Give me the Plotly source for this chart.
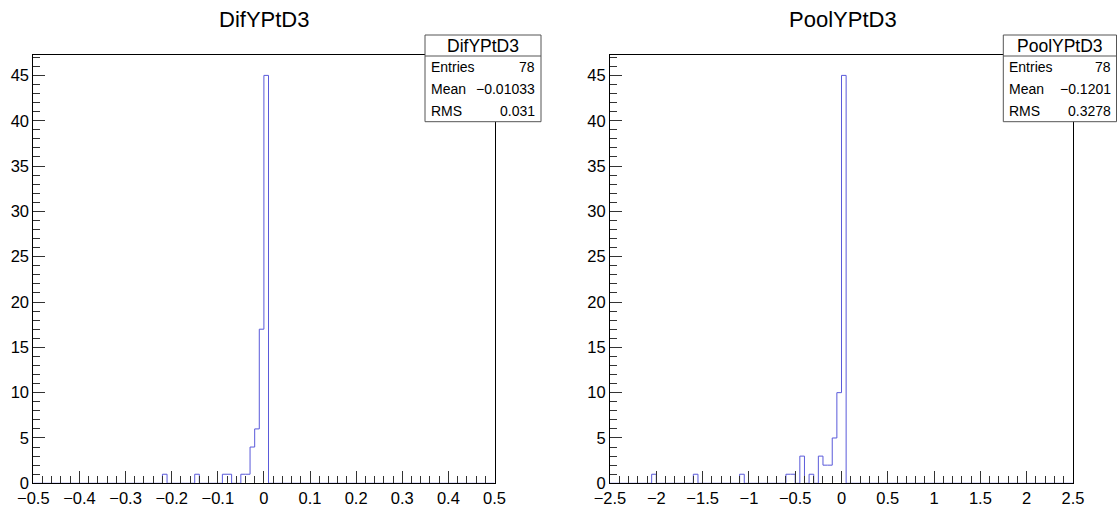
import numpy as np
import plotly.graph_objects as go

W, H = 1117, 506

# ---- data ----
dif_title = "DifYPtD3"
dif_bin_lo = [-0.22, -0.15, -0.09, -0.08, -0.05, -0.04, -0.03, -0.02, -0.01, 0.00]
dif_counts = [1, 1, 1, 1, 1, 1, 4, 6, 17, 45]
dif_stats = [("Entries", "78"), ("Mean", "\u22120.01033"), ("RMS", "0.031")]
dif_tickvals = [-0.5, -0.4, -0.3, -0.2, -0.1, 0.0, 0.1, 0.2, 0.3, 0.4, 0.5]
dif_ticktext = ["\u22120.5", "\u22120.4", "\u22120.3", "\u22120.2", "\u22120.1", "0",
                "0.1", "0.2", "0.3", "0.4", "0.5"]

pool_title = "PoolYPtD3"
pool_bin_lo = [-2.05, -1.60, -1.10, -0.60, -0.55, -0.45, -0.35, -0.25, -0.20, -0.15, -0.10, -0.05, 0.00]
pool_counts = [1, 1, 1, 1, 1, 3, 1, 3, 2, 2, 5, 10, 45]
pool_stats = [("Entries", "78"), ("Mean", "\u22120.1201"), ("RMS", "0.3278")]
pool_tickvals = [-2.5, -2, -1.5, -1, -0.5, 0, 0.5, 1, 1.5, 2, 2.5]
pool_ticktext = ["\u22122.5", "\u22122", "\u22121.5", "\u22121", "\u22120.5", "0",
                 "0.5", "1", "1.5", "2", "2.5"]

y_tickvals = [0, 5, 10, 15, 20, 25, 30, 35, 40, 45]
y_ticktext = [str(v) for v in y_tickvals]

NBINS = 100
BLUE = "rgb(90,90,218)"
FONT = "Liberation Sans, Arial, Helvetica, sans-serif"


def step_xy(xmin, xmax, lo_list, counts):
    width = (xmax - xmin) / NBINS
    full = np.zeros(NBINS)
    for lo, c in zip(lo_list, counts):
        idx = int(round((lo - xmin) / width))
        full[idx] = c
    edges = xmin + width * np.arange(NBINS + 1)
    xs = [edges[0]] + list(edges[:-1]) + [edges[-1]]
    ys = [0.0] + list(full) + [0.0]
    return xs, ys


def px(x):
    return x / W


def py(y):
    return 1 - y / H


fig = go.Figure()

xs, ys = step_xy(-0.5, 0.5, dif_bin_lo, dif_counts)
fig.add_trace(go.Scatter(x=xs, y=ys, mode="lines", line=dict(color=BLUE, width=1, shape="hv"),
                         xaxis="x", yaxis="y", showlegend=False, hoverinfo="skip"))
xs, ys = step_xy(-2.5, 2.5, pool_bin_lo, pool_counts)
fig.add_trace(go.Scatter(x=xs, y=ys, mode="lines", line=dict(color=BLUE, width=1, shape="hv"),
                         xaxis="x2", yaxis="y2", showlegend=False, hoverinfo="skip"))

y0, y1 = 55.0, 483.3
left_dom = [px(33.3), px(494.5)]
right_dom = [px(610.0), px(1073.0)]
ydom = [py(y1), py(y0)]

tickfont = dict(family=FONT, size=16.5, color="black")

def xaxis(dom, rng, tv, tt, minor_dtick, anchor):
    return dict(domain=dom, range=rng, anchor=anchor, showgrid=False, zeroline=False,
                automargin=False,
                showline=True, linecolor="black", linewidth=1, mirror=True,
                ticks="inside", ticklen=12, tickcolor="#333", tickwidth=1,
                tickvals=tv, ticktext=tt, tickfont=tickfont, tickangle=0,
                minor=dict(ticks="inside", ticklen=7, tickcolor="#333", tickwidth=1,
                           dtick=minor_dtick, tick0=rng[0], showgrid=False),
                fixedrange=True)


def yaxis(anchor):
    return dict(domain=ydom, range=[0, 47.25], anchor=anchor, showgrid=False, zeroline=False,
                automargin=False,
                showline=True, linecolor="black", linewidth=1, mirror=True,
                ticks="inside", ticklen=12, tickcolor="#333", tickwidth=1,
                tickvals=y_tickvals, ticktext=y_ticktext, tickfont=tickfont,
                minor=dict(ticks="inside", ticklen=7, tickcolor="#333", tickwidth=1,
                           dtick=1, tick0=0, showgrid=False),
                fixedrange=True)


shapes = []
annotations = []

# titles
for text, cx in [(dif_title, 264), (pool_title, 843)]:
    annotations.append(dict(x=px(cx), y=py(19.5), xref="paper", yref="paper", text=text,
                            showarrow=False, xanchor="center", yanchor="middle",
                            font=dict(family=FONT, size=22, color="black")))


def stat_box(title, stats, x0, x1):
    top, sep, bot = 35.0, 56.0, 121.7
    shapes.append(dict(type="rect", xref="paper", yref="paper", x0=px(x0), x1=px(x1),
                       y0=py(bot), y1=py(top), fillcolor="white",
                       line=dict(color="#555", width=1), layer="above"))
    shapes.append(dict(type="line", xref="paper", yref="paper", x0=px(x0), x1=px(x1),
                       y0=py(sep), y1=py(sep), line=dict(color="#555", width=1), layer="above"))
    annotations.append(dict(x=px((x0 + x1) / 2), y=py((top + sep) / 2 + 0.5), xref="paper", yref="paper",
                            text=title, showarrow=False, xanchor="center", yanchor="middle",
                            font=dict(family=FONT, size=17.5, color="black")))
    row_h = (bot - sep) / 3
    for i, (lab, val) in enumerate(stats):
        yc = sep + row_h * (i + 0.5)
        annotations.append(dict(x=px(x0 + 4), y=py(yc), xref="paper", yref="paper", text=lab,
                                showarrow=False, xanchor="left", yanchor="middle",
                                font=dict(family=FONT, size=14, color="black")))
        annotations.append(dict(x=px(x1 - 4), y=py(yc), xref="paper", yref="paper", text=val,
                                showarrow=False, xanchor="right", yanchor="middle",
                                font=dict(family=FONT, size=14, color="black")))


stat_box(dif_title, dif_stats, 425.0, 541.0)
stat_box(pool_title, pool_stats, 1003.3, 1116.5)

fig.update_layout(
    width=W, height=H, margin=dict(l=0, r=0, t=0, b=0, autoexpand=False),
    paper_bgcolor="white", plot_bgcolor="white",
    xaxis=xaxis(left_dom, [-0.5, 0.5], dif_tickvals, dif_ticktext, 0.02, "y"),
    yaxis=yaxis("x"),
    xaxis2=xaxis(right_dom, [-2.5, 2.5], pool_tickvals, pool_ticktext, 0.1, "y2"),
    yaxis2=yaxis("x2"),
    shapes=shapes, annotations=annotations,
    font=dict(family=FONT),
)

fig.write_html("out.html", config={"displayModeBar": False, "staticPlot": True},
               post_script="document.body.style.margin='0';document.body.style.overflow='hidden';")
